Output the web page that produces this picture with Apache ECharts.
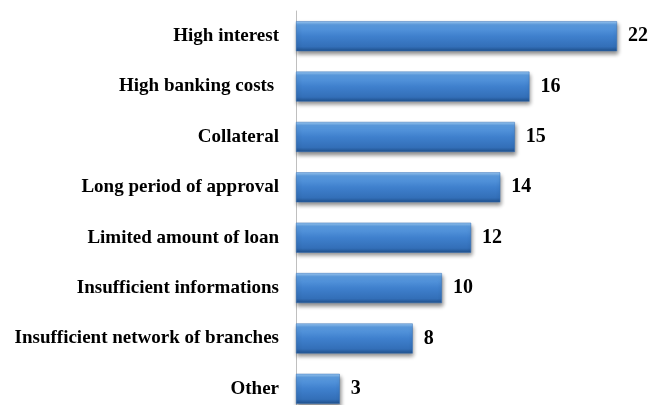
<!DOCTYPE html>
<html><head><meta charset="utf-8">
<script src="https://cdn.jsdelivr.net/npm/echarts@6/dist/echarts.min.js"></script>
<style>html,body{margin:0;padding:0;background:#fff}#c{width:651px;height:405px}</style>
</head><body><div id="c"></div>
<script>
const categories = ["High interest","High banking costs ","Collateral","Long period of approval","Limited amount of loan","Insufficient informations","Insufficient network of branches","Other"];
const values = [22,16,15,14,12,10,8,3];

const chart = echarts.init(document.getElementById('c'), null, {renderer:'canvas'});
const font = '"Liberation Serif","Times New Roman",serif';
chart.setOption({
  animation:false,
  grid:{left:296, width:321, top:11, height:403, containLabel:false, outerBoundsMode:'none'},
  xAxis:{type:'value', min:0, max:22, show:false},
  yAxis:{type:'category', data:categories, inverse:true,
    axisLine:{show:true, lineStyle:{color:'#bfbfbf', width:1}},
    axisTick:{show:false},
    axisLabel:{margin:17, color:'#000', fontFamily:font, fontWeight:'bold', fontSize:19}
  },
  series:[{type:'bar', data:values, barWidth:30,
    itemStyle:{
      color:new echarts.graphic.LinearGradient(0,0,0,1,[
        {offset:0,color:'#9ccaf4'},{offset:0.12,color:'#5c9de2'},
        {offset:0.5,color:'#3f80cd'},{offset:0.85,color:'#336fb8'},{offset:1,color:'#1f4f8a'}]),
      borderColor:'#3570b8', borderWidth:0.5,
      shadowColor:'rgba(0,0,0,0.45)', shadowBlur:4, shadowOffsetY:3, shadowOffsetX:1
    },
    label:{show:true, position:'right', distance:11, color:'#000', fontFamily:font, fontWeight:'bold', fontSize:20}
  }]
});
</script></body></html>
